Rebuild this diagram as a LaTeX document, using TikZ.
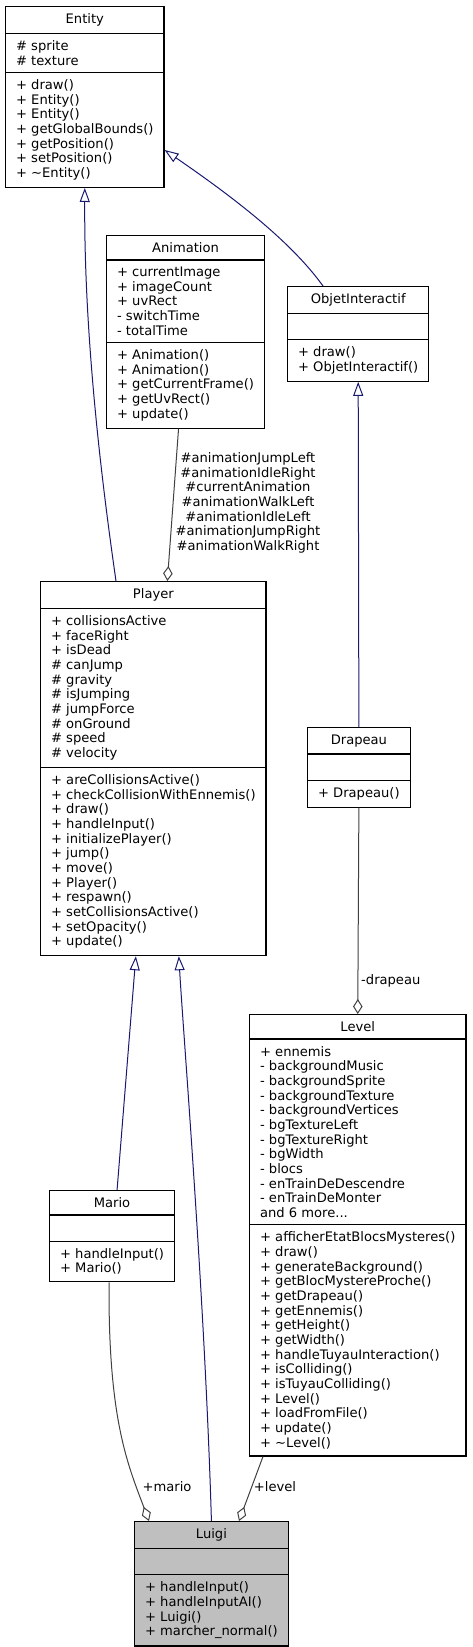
\documentclass[tikz,border=0pt]{standalone}
\usepackage{fontspec}
\setmainfont{DejaVu Sans}
\usetikzlibrary{arrows.meta,shapes.multipart}
\definecolor{inheritblue}{HTML}{191970}
\definecolor{usegray}{HTML}{404040}
\definecolor{luigigray}{HTML}{BFBFBF}
\tikzset{
  umlclass/.style={draw, line width=1.2pt, anchor=north west,
    rectangle split, rectangle split parts=3,
    rectangle split part align={center,left,left},
    rectangle split ignore empty parts=false,
    rectangle split empty part height=9pt,
    rectangle split empty part depth=3pt,
    align=left, inner xsep=10.5pt, inner ysep=6.5pt},
  inherit/.style={draw=inheritblue, line width=1pt,
    -{Triangle[open, length=14pt, width=10pt]}},
  aggr/.style={draw=usegray, line width=1pt,
    -{Diamond[open, length=15pt, width=9.5pt]}},
  rolelabel/.style={align=center, inner sep=0pt}
}
\begin{document}
\begin{tikzpicture}[x=1pt, y=-1pt, font=\fontsize{13.1}{14.67}\selectfont]
  \useasboundingbox (0,0) rectangle (472,1647);
  % Draw classes
  \node (entity) [umlclass, minimum width=157pt] at (5,6)
        {Entity \nodepart{second} \# sprite\\\# texture
         \nodepart{third} + draw()\\+ Entity()\\+ Entity()\\+ getGlobalBounds()\\+ getPosition()\\+ setPosition()\\+ \textasciitilde Entity()};
  \node (animation) [umlclass, minimum width=155pt] at (106,235)
        {Animation \nodepart{second} + currentImage\\+ imageCount\\+ uvRect\\- switchTime\\- totalTime
         \nodepart{third} + Animation()\\+ Animation()\\+ getCurrentFrame()\\+ getUvRect()\\+ update()};
  \node (objet) [umlclass, minimum width=139pt] at (287,286)
        {ObjetInteractif \nodepart{second}
         \nodepart{third} + draw()\\+ ObjetInteractif()};
  \node (player) [umlclass, minimum width=225pt] at (40,581)
        {Player \nodepart{second} + collisionsActive\\+ faceRight\\+ isDead\\\# canJump\\\# gravity\\\# isJumping\\\# jumpForce\\\# onGround\\\# speed\\\# velocity
         \nodepart{third} + areCollisionsActive()\\+ checkCollisionWithEnnemis()\\+ draw()\\+ handleInput()\\+ initializePlayer()\\+ jump()\\+ move()\\+ Player()\\+ respawn()\\+ setCollisionsActive()\\+ setOpacity()\\+ update()};
  \node (drapeau) [umlclass, minimum width=100pt] at (307,727)
        {Drapeau \nodepart{second}
         \nodepart{third} + Drapeau()};
  \node (level) [umlclass, minimum width=216pt] at (249,1014)
        {Level \nodepart{second} + ennemis\\- backgroundMusic\\- backgroundSprite\\- backgroundTexture\\- backgroundVertices\\- bgTextureLeft\\- bgTextureRight\\- bgWidth\\- blocs\\- enTrainDeDescendre\\- enTrainDeMonter\\and 6 more...
         \nodepart{third} + afficherEtatBlocsMysteres()\\+ draw()\\+ generateBackground()\\+ getBlocMystereProche()\\+ getDrapeau()\\+ getEnnemis()\\+ getHeight()\\+ getWidth()\\+ handleTuyauInteraction()\\+ isColliding()\\+ isTuyauColliding()\\+ Level()\\+ loadFromFile()\\+ update()\\+ \textasciitilde Level()};
  \node (mario) [umlclass, minimum width=122pt] at (49,1190)
        {Mario \nodepart{second}
         \nodepart{third} + handleInput()\\+ Mario()};
  \node (luigi) [umlclass, minimum width=152pt, fill=luigigray] at (134,1521)
        {Luigi \nodepart{second}
         \nodepart{third} + handleInput()\\+ handleInputAI()\\+ Luigi()\\+ marcher\_normal()};
  % Draw inheritance
  \draw[inherit] ([xshift=76pt]player.north west)
        .. controls (100,470) and (84,330) .. (entity.south);
  \draw[inherit] ([xshift=36pt]objet.north west)
        .. controls (290,240) and (230,195) .. ([yshift=-53pt]entity.east);
  \draw[inherit] (drapeau.north) -- (objet.south);
  \draw[inherit] ([xshift=5pt]mario.north) -- ([xshift=-17.5pt]player.south);
  \draw[inherit] (luigi.north)
        .. controls (205,1300) and (183,1030) .. ([xshift=25.5pt]player.south);
  % Draw aggregation
  \draw[aggr] ([xshift=-7pt]animation.south) -- ([xshift=14pt]player.north);
  \draw[aggr] (drapeau.south) -- (level.north);
  \draw[aggr] ([xshift=-3pt]mario.south)
        .. controls (108,1420) and (128,1465) .. ([xshift=15pt]luigi.north west);
  \draw[aggr] ([xshift=14pt]level.south west) -- ([xshift=105pt]luigi.north west);
  % Draw labels
  \node (animlabel) [rolelabel] at (248,503)
        {\#animationJumpLeft\\\#animationIdleRight\\\#currentAnimation\\\#animationWalkLeft\\\#animationIdleLeft\\\#animationJumpRight\\\#animationWalkRight};
  \node (drapeaulabel) [rolelabel, anchor=west] at (361,981) {-drapeau};
  \node (mariolabel) [rolelabel] at (167,1487) {+mario};
  \node (levellabel) [rolelabel] at (275,1487) {+level};
\end{tikzpicture}
\end{document}
